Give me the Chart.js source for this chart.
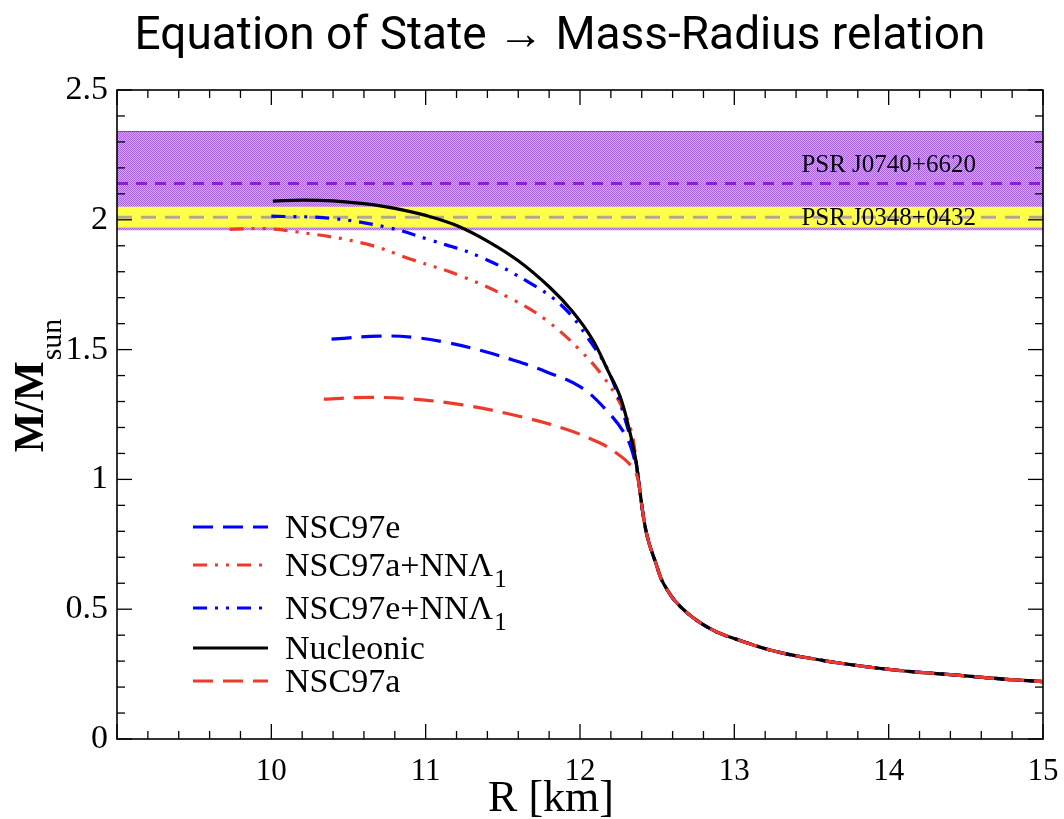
<!DOCTYPE html>
<html lang="en">
<head>
  <meta charset="UTF-8">
  <title>Equation of State → Mass-Radius relation</title>
  <script src="https://cdn.jsdelivr.net/npm/chart.js"></script>
  <style>
    body {
      margin: 0;
      background: #fff;
    }

    .chart-container {
      width: 1064px;
      height: 819px;
    }
  </style>
</head>
<body>
  <div class="chart-container">
    <canvas id="mrChart"></canvas>
  </div>

  <script>
    // Mass-radius curves, R in km, M in solar masses
    const nucleonicR = [10.01, 10.2, 10.4, 10.6, 10.8, 11.0, 11.2, 11.4, 11.6, 11.8, 11.95, 12.08, 12.18, 12.26, 12.32, 12.36];
    const nucleonicM = [2.072, 2.076, 2.073, 2.062, 2.044, 2.017, 1.978, 1.918, 1.842, 1.742, 1.648, 1.540, 1.420, 1.319, 1.190, 1.080];

    const nsc97eR = [10.39, 10.70, 10.92, 11.14, 11.35, 11.57, 11.78, 12.0, 12.17, 12.30, 12.36];
    const nsc97eM = [1.540, 1.552, 1.547, 1.527, 1.498, 1.459, 1.415, 1.357, 1.267, 1.164, 1.06];

    const nsc97aR = [10.34, 10.64, 10.92, 11.24, 11.57, 11.89, 12.13, 12.24, 12.32, 12.365];
    const nsc97aM = [1.309, 1.316, 1.309, 1.287, 1.248, 1.197, 1.140, 1.100, 1.060, 1.02];

    const nsc97aNNR = [9.73, 9.95, 10.16, 10.60, 10.92, 11.24, 11.57, 11.78, 12.0, 12.15, 12.26, 12.33, 12.36];
    const nsc97aNNM = [1.963, 1.966, 1.954, 1.909, 1.845, 1.781, 1.691, 1.614, 1.498, 1.396, 1.293, 1.19, 1.09];

    const nsc97eNNR = [10.0, 10.38, 10.75, 11.03, 11.35, 11.68, 11.89, 12.06, 12.19, 12.30, 12.36];
    const nsc97eNNM = [2.014, 2.006, 1.971, 1.922, 1.858, 1.755, 1.665, 1.537, 1.409, 1.216, 1.075];

    // low-mass part shared by every EoS
    const tailR = [12.385, 12.41, 12.44, 12.49, 12.54, 12.65, 12.84, 13.06, 13.27, 13.49, 13.77, 14.10, 14.42, 14.74, 15.0];
    const tailM = [0.970, 0.860, 0.770, 0.680, 0.600, 0.510, 0.426, 0.375, 0.337, 0.311, 0.285, 0.262, 0.247, 0.231, 0.221];

    // pulsar mass measurements: [low, central, high]
    const psrJ0740 = [1.96, 2.14, 2.34];
    const psrJ0348 = [1.97, 2.01, 2.05];

    const xRange = [9, 15];
    const yRange = [0, 2.5];

    // Helpers
    const toPoints = (r, m) => r.map((x, i) => ({ x, y: m[i] }));
    const withTail = (r, m) => toPoints(r.concat(tailR), m.concat(tailM));
    const hLine = (v) => [{ x: xRange[0], y: v }, { x: xRange[1], y: v }];
    const isMultiple = (v, step) => Math.abs(v / step - Math.round(v / step)) < 1e-6;

    // hatched purple fill like the original
    const makePattern = () => {
      const c = document.createElement("canvas");
      c.width = 2;
      c.height = 2;
      const g = c.getContext("2d");
      g.fillStyle = "#d0acee";
      g.fillRect(0, 0, 2, 2);
      g.fillStyle = "#a864da";
      g.fillRect(0, 0, 1, 1);
      g.fillRect(1, 1, 1, 1);
      return g.createPattern(c, "repeat");
    };

    const serif = "'Liberation Serif', 'Times New Roman', serif";
    const blue = "#0000ff";
    const red = "#ec3b2d";
    const dashed = [20, 10];
    const dashDotDot = [14, 8, 3, 8, 3, 8];

    const curve = (label, data, color, dash, order) => ({
      label,
      data,
      borderColor: color,
      borderWidth: 3.2,
      borderDash: dash,
      showLine: true,
      pointRadius: 0,
      fill: false,
      tension: 0.4,
      order,
      inLegend: true,
    });

    const datasets = [
      {
        label: "J0740 band",
        data: hLine(psrJ0740[2]),
        borderColor: "#9436cf",
        borderWidth: 1,
        backgroundColor: makePattern(),
        fill: { value: psrJ0740[0] },
        showLine: true,
        pointRadius: 0,
        order: 20,
      },
      {
        label: "J0740 central",
        data: hLine(psrJ0740[1]),
        borderColor: "#8a1fd8",
        borderWidth: 3,
        borderDash: [11, 8],
        showLine: true,
        pointRadius: 0,
        order: 19,
      },
      {
        label: "J0348 band",
        data: hLine(psrJ0348[2]),
        borderColor: "#ffff4a",
        borderWidth: 0,
        backgroundColor: "#ffff4a",
        fill: { value: psrJ0348[0] },
        showLine: true,
        pointRadius: 0,
        order: 18,
      },
      {
        label: "J0348 central",
        data: hLine(psrJ0348[1]),
        borderColor: "#b3a894",
        borderWidth: 3,
        borderDash: [15, 9],
        showLine: true,
        pointRadius: 0,
        order: 17,
      },
      curve("NSC97e", withTail(nsc97eR, nsc97eM), blue, dashed, 5),
      curve("NSC97a+NNΛ|1", withTail(nsc97aNNR, nsc97aNNM), red, dashDotDot, 4),
      curve("NSC97e+NNΛ|1", withTail(nsc97eNNR, nsc97eNNM), blue, dashDotDot, 3),
      curve("Nucleonic", withTail(nucleonicR, nucleonicM), "#000000", [], 2),
      curve("NSC97a", withTail(nsc97aR, nsc97aM), red, dashed, 1),
    ];

    // Title, frame, inward ticks, axis titles, PSR labels and the legend
    const decorations = {
      id: "decorations",
      afterDatasetsDraw(chart) {
        const { ctx, chartArea: a, scales: { x, y } } = chart;
        const line = (x1, y1, x2, y2) => {
          ctx.beginPath();
          ctx.moveTo(x1, y1);
          ctx.lineTo(x2, y2);
          ctx.stroke();
        };
        ctx.save();

        // main title
        ctx.fillStyle = "#000";
        ctx.textAlign = "center";
        ctx.textBaseline = "middle";
        ctx.font = "46px Roboto, 'Noto Sans', sans-serif";
        ctx.fillText("Equation of State → Mass-Radius relation", 560, 37);

        // PSR labels
        ctx.font = `25px ${serif}`;
        ctx.textBaseline = "alphabetic";
        ctx.fillText("PSR J0740+6620", x.getPixelForValue(14.0), y.getPixelForValue(psrJ0740[1]) - 11);
        ctx.textBaseline = "middle";
        ctx.fillText("PSR J0348+0432", x.getPixelForValue(14.0), y.getPixelForValue(psrJ0348[1]) + 1);

        // ticks on all four sides
        ctx.strokeStyle = "#000";
        ctx.lineWidth = 1.3;
        ctx.setLineDash([]);
        x.ticks.forEach((t) => {
          const px = x.getPixelForValue(t.value);
          const len = isMultiple(t.value, 1) ? 15 : 8;
          line(px, a.bottom, px, a.bottom - len);
          line(px, a.top, px, a.top + len);
        });
        y.ticks.forEach((t) => {
          const py = y.getPixelForValue(t.value);
          const len = isMultiple(t.value, 0.5) ? 15 : 8;
          line(a.left, py, a.left + len, py);
          line(a.right, py, a.right - len, py);
        });
        ctx.lineWidth = 1.6;
        ctx.strokeRect(a.left, a.top, a.width, a.height);

        // x title
        ctx.textAlign = "center";
        ctx.textBaseline = "alphabetic";
        ctx.font = `44px ${serif}`;
        ctx.fillText("R [km]", 551, 811);

        // y title with subscript
        ctx.save();
        ctx.font = `bold 42px ${serif}`;
        const wMain = ctx.measureText("M/M").width;
        ctx.font = `30px ${serif}`;
        const wSub = ctx.measureText("sun").width;
        ctx.translate(43, 386 + (wMain + wSub) / 2);
        ctx.rotate(-Math.PI / 2);
        ctx.textAlign = "left";
        ctx.font = `bold 42px ${serif}`;
        ctx.fillText("M/M", 0, 0);
        ctx.font = `30px ${serif}`;
        ctx.fillText("sun", wMain + 1, 18);
        ctx.restore();

        // legend
        const rows = [527, 565, 608, 648, 681];
        const items = chart.data.datasets.filter((d) => d.inLegend);
        items.forEach((d, i) => {
          const yy = rows[i];
          ctx.strokeStyle = d.borderColor;
          ctx.lineWidth = d.borderWidth;
          ctx.setLineDash(d.borderDash);
          line(193, yy, 268, yy);
          ctx.setLineDash([]);
          const [main, sub] = d.label.split("|");
          ctx.fillStyle = "#000";
          ctx.textAlign = "left";
          ctx.textBaseline = "alphabetic";
          ctx.font = `34px ${serif}`;
          ctx.fillText(main, 285, yy + 11);
          if (sub) {
            const w = ctx.measureText(main).width;
            ctx.font = `25px ${serif}`;
            ctx.fillText(sub, 285 + w + 1, yy + 22);
          }
        });

        ctx.restore();
      },
    };

    const ctx = document.getElementById("mrChart").getContext("2d");
    const chart = new Chart(ctx, {
      type: "scatter",
      data: { datasets },
      options: {
        responsive: true,
        maintainAspectRatio: false,
        animation: false,
        layout: {
          padding: { left: 0, right: 21, top: 90, bottom: 0 },
        },
        plugins: {
          legend: { display: false },
          tooltip: { enabled: false },
          title: { display: false },
        },
        scales: {
          x: {
            type: "linear",
            min: xRange[0],
            max: xRange[1],
            grid: { display: false, drawTicks: false },
            border: { display: false },
            ticks: {
              stepSize: 0.2,
              autoSkip: false,
              maxRotation: 0,
              padding: 14,
              color: "#000",
              font: { family: serif, size: 31 },
              callback: (v) => (isMultiple(v, 1) && v > xRange[0] ? String(Math.round(v)) : ""),
            },
            afterFit: (scale) => {
              scale.height = 80;
              scale.paddingLeft = 0;
              scale.paddingRight = 0;
            },
          },
          y: {
            type: "linear",
            min: yRange[0],
            max: yRange[1],
            grid: { display: false, drawTicks: false },
            border: { display: false },
            ticks: {
              stepSize: 0.1,
              autoSkip: false,
              padding: 9,
              color: "#000",
              font: { family: serif, size: 34 },
              callback: (v) => (isMultiple(v, 0.5) ? String(Math.round(v * 10) / 10) : ""),
            },
            afterFit: (scale) => {
              scale.width = 117;
              scale.paddingTop = 0;
              scale.paddingBottom = 0;
            },
          },
        },
      },
      plugins: [decorations],
    });
  </script>
</body>
</html>
